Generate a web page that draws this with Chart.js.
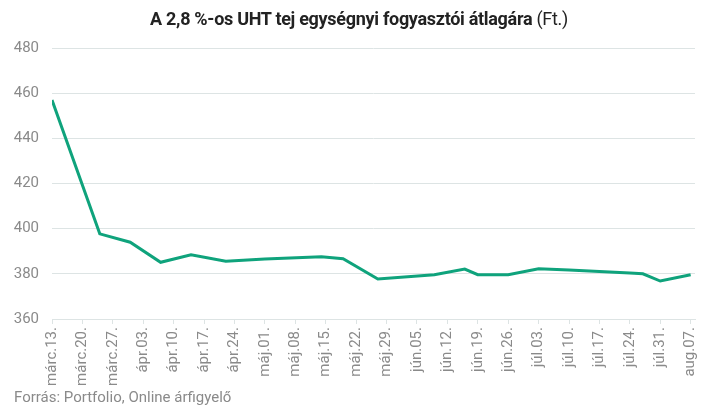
<!DOCTYPE html>
<html>
<head>
<meta charset="utf-8">
<script src="https://cdn.jsdelivr.net/npm/chart.js@4"></script>
<style>
  body { margin: 0; background: #fff; font-family: Roboto, sans-serif; }
  #wrap { position: relative; width: 718px; height: 415px; }
  #title { position: absolute; top: 8px; left: 0; width: 718px; text-align: center;
           font-size: 18px; color: #222; letter-spacing: -0.3px; }
  #title b { font-weight: 700; }
  #source { position: absolute; left: 14px; top: 388px; font-size: 15px; color: #8a8a8a; }
</style>
</head>
<body>
<div id="wrap">
  <canvas id="chart" width="718" height="415"></canvas>
  <div id="title"><b>A 2,8 %-os UHT tej egységnyi fogyasztói átlagára</b> (Ft.)</div>
  <div id="source">Forrás: Portfolio, Online árfigyelő</div>
</div>
<script>
// heti címkék (márc.13.-tól, 7 naponként)
const weekLabels = ["márc.13.", "márc.20.", "márc.27.", "ápr.03.", "ápr.10.", "ápr.17.",
  "ápr.24.", "máj.01.", "máj.08.", "máj.15.", "máj.22.", "máj.29.", "jún.05.", "jún.12.",
  "jún.19.", "jún.26.", "júl.03.", "júl.10.", "júl.17.", "júl.24.", "júl.31.", "aug.07."];

// napok márc.13. óta és az átlagár (Ft.)
const days   = [0, 11, 18, 25, 32, 40, 49, 62, 67, 75, 88, 95, 98, 105, 112, 119, 126, 133, 136, 140, 147];
const prices = [457, 397.7, 394, 385.1, 388.4, 385.6, 386.6, 387.6, 386.7, 377.7, 379.6, 382.1,
  379.6, 379.6, 382.2, 381.7, 381.0, 380.4, 380.0, 376.8, 379.6];

const yTicks = [360, 380, 400, 420, 440, 460, 480];

const points = days.map((d, i) => ({ x: d, y: prices[i] }));

const gridColor = "#dde4e4";
const labelColor = "#8a8a8a";

new Chart(document.getElementById("chart"), {
    type: "line",
    data: {
        datasets: [{
            data: points,
            borderColor: "#0fa37c",
            borderWidth: 3,
            pointRadius: 0,
            tension: 0,
            fill: false
        }]
    },
    options: {
        responsive: false,
        animation: false,
        layout: { padding: { left: 14, right: 23, top: 48, bottom: 26 } },
        plugins: { legend: { display: false }, tooltip: { enabled: false } },
        scales: {
            x: {
                type: "linear",
                min: 0,
                max: 148,
                afterBuildTicks: (scale) => {
                    scale.ticks = weekLabels.map((_, i) => ({ value: i * 7 }));
                },
                afterFit: (scale) => { scale.height = 70; },
                ticks: {
                    autoSkip: false,
                    minRotation: 90,
                    maxRotation: 90,
                    color: labelColor,
                    font: { family: "Roboto", size: 15 },
                    padding: 3,
                    callback: (value) => weekLabels[Math.round(value / 7)]
                },
                grid: { drawOnChartArea: false, tickLength: 5, color: gridColor },
                border: { display: true, color: gridColor, width: 1 }
            },
            y: {
                min: 360,
                max: 480,
                afterBuildTicks: (scale) => {
                    scale.ticks = yTicks.map(v => ({ value: v }));
                },
                afterFit: (scale) => { scale.width = 38; },
                ticks: {
                    color: labelColor,
                    font: { family: "Roboto", size: 15 },
                    padding: 13
                },
                grid: { drawTicks: false, color: gridColor },
                border: { display: false }
            }
        }
    }
});
</script>
</body>
</html>
